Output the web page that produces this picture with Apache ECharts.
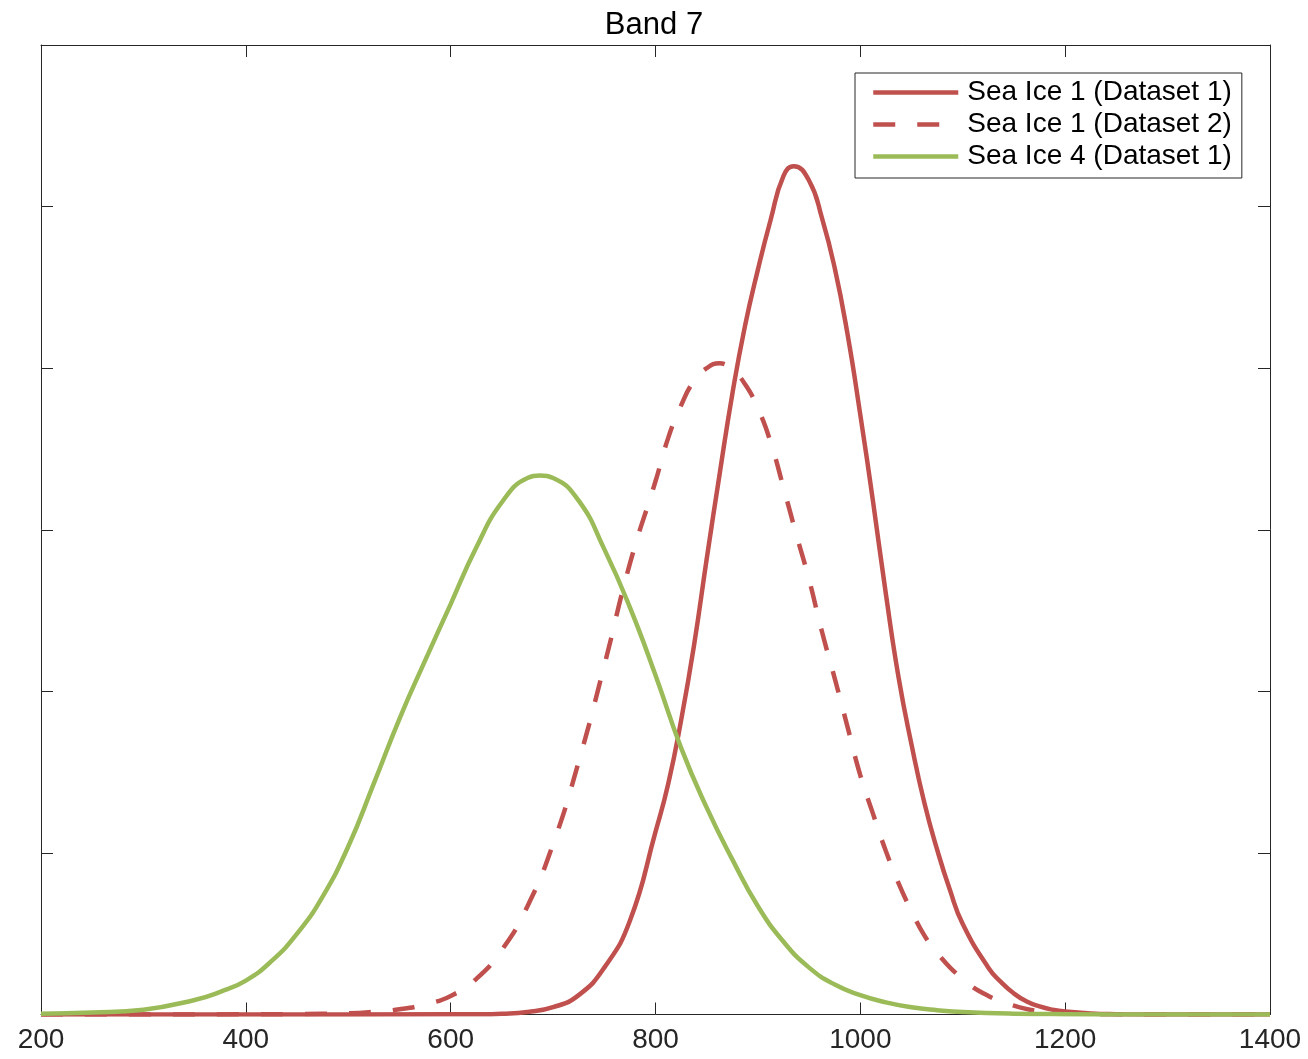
<!DOCTYPE html>
<html>
<head>
<meta charset="utf-8">
<script src="https://cdn.jsdelivr.net/npm/echarts@6/dist/echarts.min.js"></script>
<style>
  html, body { margin: 0; padding: 0; background: #ffffff; }
  #chart { width: 1308px; height: 1059px; }
</style>
</head>
<body>
<div id="chart"></div>
<script>
// Band 7 distributions

const seriesNames = ['Sea Ice 1 (Dataset 1)', 'Sea Ice 1 (Dataset 2)', 'Sea Ice 4 (Dataset 1)'];

const xTickValues = [200, 400, 600, 800, 1000, 1200, 1400];

// Sea Ice 1, Dataset 1
const iceOneSetOneX = [200, 400, 600, 625, 650, 675, 700, 725, 750, 775, 800, 812.5, 825, 837.5, 850,
  862.5, 875, 887.5, 900, 912.5, 925, 935, 950, 962.5, 975, 987.5, 1000, 1012.5, 1025, 1037.5,
  1050, 1062.5, 1075, 1087.5, 1100, 1125, 1137.5, 1150, 1162.5, 1175, 1187.5, 1200, 1225, 1250, 1300, 1400];
const iceOneSetOneY = [0, 0, 0.001, 0.0015, 0.005, 0.016, 0.045, 0.12, 0.29, 0.58, 1.13, 1.43, 1.82, 2.28, 2.82,
  3.34, 3.84, 4.265, 4.61, 4.92, 5.19, 5.25, 5.16, 4.93, 4.62, 4.21, 3.71, 3.17, 2.60, 2.08,
  1.67, 1.31, 1.02, 0.77, 0.56, 0.29, 0.20, 0.13, 0.08, 0.05, 0.03, 0.018, 0.006, 0.002, 0, 0];

// Sea Ice 1, Dataset 2
const iceOneSetTwoX = [200, 400, 450, 500, 525, 550, 575, 600, 625, 650, 675, 700, 725, 750, 775, 800,
  812.5, 825, 837.5, 850, 862.5, 875, 887.5, 900, 912.5, 925, 937.5, 950, 962.5, 975, 987.5, 1000,
  1012.5, 1025, 1037.5, 1050, 1062.5, 1075, 1100, 1125, 1150, 1175, 1200, 1225, 1250, 1300, 1400];
const iceOneSetTwoY = [0, 0.001, 0.003, 0.008, 0.017, 0.032, 0.063, 0.115, 0.22, 0.40, 0.67, 1.055, 1.565, 2.16, 2.79, 3.30,
  3.57, 3.77, 3.92, 4.00, 4.03, 3.99, 3.90, 3.75, 3.54, 3.26, 2.97, 2.69, 2.37, 2.08, 1.78, 1.48,
  1.24, 1.01, 0.81, 0.64, 0.49, 0.38, 0.22, 0.115, 0.055, 0.02, 0.008, 0.003, 0.001, 0, 0];

// Sea Ice 4, Dataset 1
const iceFourSetOneX = [200, 250, 300, 350, 375, 400, 425, 450, 475, 500, 525, 550, 575, 600, 625, 650,
  675, 687.5, 700, 725, 750, 775, 800, 825, 850, 875, 900, 925, 950, 975, 1000, 1025, 1050, 1075,
  1100, 1150, 1200, 1300, 1400];
const iceFourSetOneY = [0.005, 0.012, 0.03, 0.09, 0.14, 0.21, 0.33, 0.50, 0.73, 1.04, 1.43, 1.83, 2.19, 2.54, 2.89, 3.17,
  3.32, 3.335, 3.32, 3.18, 2.88, 2.52, 2.10, 1.65, 1.28, 0.96, 0.67, 0.45, 0.29, 0.185, 0.12, 0.075, 0.045, 0.027,
  0.015, 0.005, 0.002, 0, 0];

const RED = '#C0504D';
const GREEN = '#9BBB59';
const AXIS = '#262626';
const FONT = '"Liberation Sans", Arial, Helvetica, sans-serif';
const LINE_W = 4.5;

function pairs(xs, ys) {
  return xs.map((x, i) => [x, ys[i]]);
}

const xMin = xTickValues[0];
const xMax = xTickValues[xTickValues.length - 1];
const xStep = xTickValues[1] - xTickValues[0];

function xAxisDef(pos, labels) {
  return {
    type: 'value', position: pos, min: xMin, max: xMax, interval: xStep,
    axisLine: { show: true, onZero: false, lineStyle: { color: AXIS, width: 1 } },
    axisTick: { show: true, inside: true, length: 12, lineStyle: { color: AXIS, width: 1 } },
    axisLabel: {
      show: labels, fontSize: 28, color: AXIS, margin: 12, fontFamily: FONT,
      formatter: (v) => String(v)
    },
    splitLine: { show: false }
  };
}

function yAxisDef(pos) {
  return {
    type: 'value', position: pos, min: 0, max: 6, interval: 1,
    axisLine: { show: true, onZero: false, lineStyle: { color: AXIS, width: 1 } },
    axisTick: { show: true, inside: true, length: 12, lineStyle: { color: AXIS, width: 1 } },
    axisLabel: { show: false },
    splitLine: { show: false }
  };
}

function curve(name, xs, ys, color, dash) {
  return {
    name: name, type: 'line', xAxisIndex: 0, yAxisIndex: 0,
    data: pairs(xs, ys),
    smooth: 0.5,
    symbol: 'none', showSymbol: false,
    lineStyle: { color: color, width: LINE_W, type: dash ? [22, 22] : 'solid', cap: 'butt' },
    itemStyle: { color: color },
    emphasis: { disabled: true }
  };
}

const chart = echarts.init(document.getElementById('chart'), null, { renderer: 'canvas' });
chart.setOption({
  animation: false,
  backgroundColor: '#ffffff',
  title: {
    text: 'Band 7', left: 'center', top: 5,
    textStyle: { fontSize: 31, fontWeight: 'normal', color: '#000000', fontFamily: FONT }
  },
  grid: { left: 41, right: 38, top: 45, bottom: 44.5, containLabel: false },
  legend: {
    orient: 'vertical', left: 855, top: 73,
    itemWidth: 85, itemHeight: 14, itemGap: 1,
    padding: [4, 10, 6, 16],
    borderColor: AXIS, borderWidth: 1, backgroundColor: '#ffffff',
    itemStyle: { opacity: 0 },
    lineStyle: { width: LINE_W },
    textStyle: { fontSize: 28, color: '#000000', fontFamily: FONT, lineHeight: 31, padding: [0, 0, 0, 4] },
    data: seriesNames
  },
  xAxis: [xAxisDef('bottom', true), xAxisDef('top', false)],
  yAxis: [yAxisDef('left'), yAxisDef('right')],
  series: [
    curve(seriesNames[0], iceOneSetOneX, iceOneSetOneY, RED, false),
    curve(seriesNames[1], iceOneSetTwoX, iceOneSetTwoY, RED, true),
    curve(seriesNames[2], iceFourSetOneX, iceFourSetOneY, GREEN, false)
  ]
});
</script>
</body>
</html>
